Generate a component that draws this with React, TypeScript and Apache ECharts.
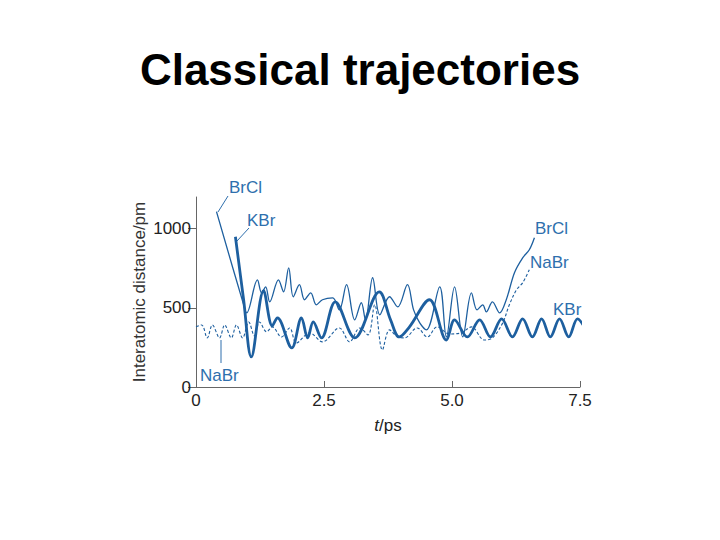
import React, { useEffect, useRef } from "react";
import * as echarts from "echarts";

// ---- Data (t in ps, distance in pm) ----
const kbrT = [0.77, 0.93, 1.08, 1.32, 1.49, 1.59, 1.87, 2.06, 2.18, 2.29, 2.45, 2.72, 3.10, 3.58, 3.80, 3.97, 4.17, 4.56, 4.89, 5.05, 5.30, 5.54, 5.75, 5.97, 6.18, 6.38, 6.57, 6.75, 6.92, 7.10, 7.28, 7.45, 7.61];
const kbrV = [949, 551, 190, 608, 386, 437, 247, 437, 310, 411, 310, 538, 310, 601, 424, 316, 380, 551, 297, 424, 316, 424, 316, 430, 316, 430, 316, 430, 316, 430, 316, 430, 367];

const brclT = [0.40, 0.93, 0.99, 1.20, 1.28, 1.36, 1.44, 1.61, 1.71, 1.81, 1.90, 2.02, 2.12, 2.24, 2.35, 2.47, 2.67, 2.80, 2.94, 3.10, 3.23, 3.31, 3.45, 3.59, 3.78, 3.94, 4.13, 4.25, 4.37, 4.50, 4.76, 4.89, 5.05, 5.21, 5.38, 5.49, 5.60, 5.67, 5.79, 5.93, 6.06, 6.22, 6.38, 6.51, 6.61];
const brclV = [1108, 520, 468, 677, 595, 633, 538, 677, 601, 753, 570, 646, 551, 595, 519, 551, 563, 487, 646, 424, 532, 424, 690, 456, 570, 506, 646, 487, 405, 361, 633, 316, 633, 316, 595, 487, 519, 475, 538, 468, 551, 722, 816, 867, 943];

const nabrT = [0, 0.11, 0.22, 0.32, 0.46, 0.56, 0.69, 0.79, 0.91, 1.03, 1.14, 1.24, 1.38, 1.49, 1.67, 1.83, 1.96, 2.22, 2.47, 2.80, 3.00, 3.20, 3.36, 3.49, 3.64, 3.78, 3.94, 4.07, 4.32, 4.52, 4.71, 4.95, 5.18, 5.38, 5.63, 5.79, 5.99, 6.12, 6.26, 6.38, 6.51];
const nabrV = [380, 392, 310, 392, 310, 392, 310, 392, 310, 411, 323, 411, 348, 380, 316, 373, 278, 342, 285, 373, 285, 373, 329, 519, 234, 361, 316, 310, 373, 316, 380, 335, 342, 380, 297, 310, 405, 519, 614, 658, 741];

const xTicks = [0, 2.5, 5.0, 7.5];
const yTicks = [0, 500, 1000];

const TITLE = "Classical trajectories";
const Y_NAME = "Interatomic distance/pm";

const pair = (t: number[], v: number[]) => t.map((x, i) => [x, v[i]]);

const LINE_BLUE = "#1d5f9f";
const LABEL_BLUE = "#2e6fad";
const FONT = "Liberation Sans, Arial, Helvetica, sans-serif";

export default function App() {
  const ref = useRef<HTMLDivElement>(null);
  useEffect(() => {
    if (!ref.current) return;
    const chart = echarts.init(ref.current, undefined, { renderer: "svg" });
    const lbl = (text: string, x: number, y: number) => ({
      type: "text",
      x,
      y,
      style: { text, fill: LABEL_BLUE, font: `17px ${FONT}`, textVerticalAlign: "middle" },
    });
    const leader = (x1: number, y1: number, x2: number, y2: number) => ({
      type: "line",
      shape: { x1, y1, x2, y2 },
      style: { stroke: LABEL_BLUE, lineWidth: 1 },
    });
    chart.setOption({
      animation: false,
      backgroundColor: "#ffffff",
      title: {
        text: TITLE,
        left: "center",
        top: 42,
        textStyle: { fontSize: 44, fontWeight: "bold", color: "#000", fontFamily: FONT },
      },
      grid: { left: 196, right: 140, top: 197, bottom: 153, containLabel: false },
      xAxis: {
        type: "value",
        min: 0,
        max: 7.5,
        interval: 2.5,
        name: "{i|t}/ps",
        nameLocation: "middle",
        nameGap: 30,
        nameTextStyle: {
          fontSize: 17,
          color: "#222",
          fontFamily: FONT,
          rich: { i: { fontStyle: "italic", fontSize: 17, color: "#222", fontFamily: FONT } },
        },
        axisLine: { lineStyle: { color: "#666", width: 1 } },
        axisTick: { show: true, inside: true, length: 6, lineStyle: { color: "#666" }, customValues: xTicks },
        axisLabel: {
          color: "#222",
          fontSize: 17,
          fontFamily: FONT,
          margin: 5,
          customValues: xTicks,
          formatter: (v: number) => (v === 0 ? "0" : v.toFixed(1)),
        },
        splitLine: { show: false },
      },
      yAxis: {
        type: "value",
        min: 0,
        max: 1200,
        name: Y_NAME,
        nameLocation: "middle",
        nameGap: 48,
        nameMoveOverlap: false,
        nameTextStyle: { fontSize: 17, color: "#333", fontFamily: FONT },
        axisLine: { show: true, lineStyle: { color: "#666", width: 1 } },
        axisTick: { show: true, inside: false, length: 8, lineStyle: { color: "#666" }, customValues: yTicks },
        axisLabel: {
          color: "#222",
          fontSize: 17,
          fontFamily: FONT,
          margin: 5,
          customValues: yTicks,
          formatter: (v: number) => String(v),
        },
        splitLine: { show: false },
      },
      series: [
        {
          name: "NaBr",
          type: "line",
          data: pair(nabrT, nabrV),
          smooth: 0.35,
          showSymbol: false,
          clip: false,
          lineStyle: { color: LINE_BLUE, width: 1.1, type: [3, 2] },
        },
        {
          name: "BrCl",
          type: "line",
          data: pair(brclT, brclV),
          smooth: 0.35,
          showSymbol: false,
          clip: false,
          lineStyle: { color: LINE_BLUE, width: 1.3 },
        },
        {
          name: "KBr",
          type: "line",
          data: pair(kbrT, kbrV),
          smooth: 0.35,
          showSymbol: false,
          clip: false,
          lineStyle: { color: LINE_BLUE, width: 2.8 },
        },
      ],
      graphic: [
        lbl("BrCl", 229, 187),
        leader(228, 196, 218, 212),
        lbl("KBr", 247, 220),
        leader(249, 228, 237, 241),
        lbl("NaBr", 200, 375),
        leader(221, 340, 221, 363),
        lbl("BrCl", 535, 228),
        lbl("NaBr", 530, 262),
        lbl("KBr", 553, 309),
      ],
    });
    return () => chart.dispose();
  }, []);
  return (
    <div
      ref={ref}
      style={{ position: "fixed", left: 0, top: 0, width: 720, height: 540, background: "#fff" }}
    />
  );
}
